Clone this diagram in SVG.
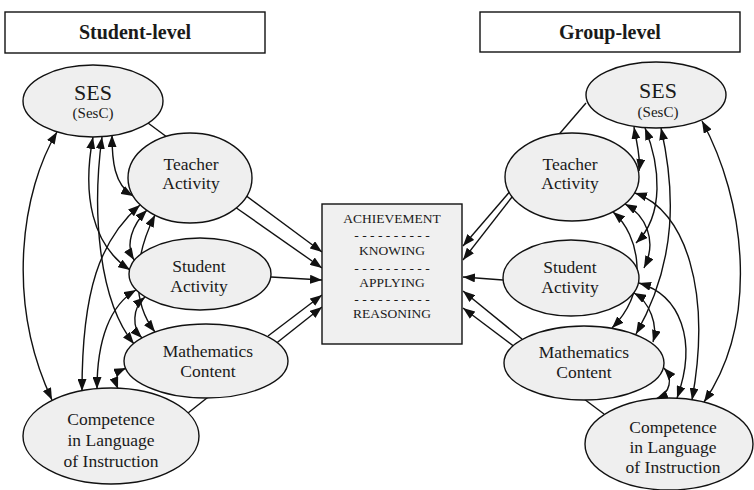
<svg xmlns="http://www.w3.org/2000/svg" width="754" height="490" viewBox="0 0 754 490">
<style>
  .t{font-family:"Liberation Serif","Times New Roman",serif;fill:#1a1a1a;text-anchor:middle}
  .title{font-size:20px;font-weight:bold}
  .n{font-size:17.5px}
  .ses{font-size:22px}
  .sub{font-size:15px}
  .ach{font-size:13.5px}
  .node ellipse{fill:#efefef;stroke:#111;stroke-width:1.4}
  .lbl rect{fill:#fff;stroke:#111;stroke-width:1.4}
  .conn path{fill:none;stroke:#111;stroke-width:1.4}
  .cov{marker-start:url(#ah);marker-end:url(#ah)}
  .dir{marker-end:url(#ah)}
</style>
<defs>
  <marker id="ah" viewBox="0 0 12 9" refX="12" refY="4.5" markerWidth="12" markerHeight="9" markerUnits="userSpaceOnUse" orient="auto-start-reverse">
    <path d="M0,0 L12,4.5 L0,9 z" fill="#111"/>
  </marker>
</defs>
<rect width="754" height="490" fill="#fff"/>

<g id="student-level" class="lbl">
  <rect x="5" y="12" width="260" height="41"/>
  <text class="t title" x="135" y="39">Student-level</text>
</g>
<g id="group-level" class="lbl">
  <rect x="480" y="12" width="260" height="40"/>
  <text class="t title" x="610" y="39">Group-level</text>
</g>

<g id="connectors" class="conn">
  <!-- left direct effects -->
  <path class="dir" d="M148,123 L322,252"/>
  <path class="dir" d="M235,207 L322,268"/>
  <path class="dir" d="M271,277 L322,280"/>
  <path class="dir" d="M268,336 L322,295"/>
  <path class="dir" d="M188,413 L322,307"/>
  <!-- right direct effects -->
  <path class="dir" d="M586,103 L463,246"/>
  <path class="dir" d="M512,197 L463,260"/>
  <path class="dir" d="M503,280 L463,277"/>
  <path class="dir" d="M522,339 L463,291"/>
  <path class="dir" d="M604,414 L463,308"/>
  <!-- left covariances -->
  <path class="cov" d="M57,132 C22,190 5,300 52,400"/>
  <path class="cov" d="M112,135 C112,160 114,185 133,196"/>
  <path class="cov" d="M93,137 C82,195 92,245 130,270"/>
  <path class="cov" d="M102,137 C92,210 98,300 134,344"/>
  <path class="cov" d="M140,205 C100,240 82,290 82,391"/>
  <path class="cov" d="M147,210 C132,225 125,245 134,260"/>
  <path class="cov" d="M155,215 C135,255 130,300 155,332"/>
  <path class="cov" d="M145,297 C132,308 132,328 142,338"/>
  <path class="cov" d="M136,290 C110,305 97,340 97,389"/>
  <path class="cov" d="M126,368 C117,372 114,378 118,389"/>
  <!-- right covariances -->
  <path class="cov" d="M634,127 C637,145 641,158 639,171"/>
  <path class="cov" d="M645,128 C660,165 665,215 636,243"/>
  <path class="cov" d="M661,128 C675,190 678,260 636,334"/>
  <path class="cov" d="M702,121 C745,200 760,320 704,402"/>
  <path class="cov" d="M635,193 C685,210 712,290 692,400"/>
  <path class="cov" d="M639,283 C680,295 698,340 677,398"/>
  <path class="cov" d="M634,293 C650,302 658,325 653,342"/>
  <path class="cov" d="M664,368 C673,378 671,393 656,399"/>
  <path class="cov" d="M625,204 C645,215 658,240 644,268"/>
  <path class="cov" d="M613,212 C640,235 650,290 612,328"/>
</g>

<!-- left nodes -->
<g id="ses-s" class="node">
  <ellipse cx="93" cy="101" rx="70" ry="36"/>
  <text class="t ses" x="93" y="100">SES</text>
  <text class="t sub" x="93" y="118">(SesC)</text>
</g>
<g id="teacher-s" class="node">
  <ellipse cx="190" cy="178" rx="62" ry="45"/>
  <text class="t n" x="191" y="170">Teacher</text>
  <text class="t n" x="191" y="189">Activity</text>
</g>
<g id="student-s" class="node">
  <ellipse cx="200" cy="274" rx="71" ry="36"/>
  <text class="t n" x="199" y="272">Student</text>
  <text class="t n" x="199" y="292">Activity</text>
</g>
<g id="math-s" class="node">
  <ellipse cx="206" cy="361" rx="82" ry="37"/>
  <text class="t n" x="208" y="357">Mathematics</text>
  <text class="t n" x="208" y="377">Content</text>
</g>
<g id="comp-s" class="node">
  <ellipse cx="111" cy="436" rx="88" ry="48"/>
  <text class="t n" x="111" y="425">Competence</text>
  <text class="t n" x="111" y="446">in Language</text>
  <text class="t n" x="111" y="467">of Instruction</text>
</g>

<!-- achievement -->
<g id="achievement">
  <rect x="322" y="204" width="140" height="140" fill="#f0f0f0" stroke="#111" stroke-width="1.4"/>
  <text class="t ach" x="392" y="223">ACHIEVEMENT</text>
  <text class="t ach" x="392" y="240">- - - - - - - - - -</text>
  <text class="t ach" x="392" y="255">KNOWING</text>
  <text class="t ach" x="392" y="273">- - - - - - - - - -</text>
  <text class="t ach" x="392" y="287">APPLYING</text>
  <text class="t ach" x="392" y="304">- - - - - - - - - -</text>
  <text class="t ach" x="392" y="318">REASONING</text>
</g>

<!-- right nodes -->
<g id="ses-g" class="node">
  <ellipse cx="656" cy="95" rx="70" ry="33"/>
  <text class="t ses" x="658" y="98">SES</text>
  <text class="t sub" x="658" y="117">(SesC)</text>
</g>
<g id="teacher-g" class="node">
  <ellipse cx="572" cy="177" rx="67" ry="44"/>
  <text class="t n" x="570" y="170">Teacher</text>
  <text class="t n" x="570" y="189">Activity</text>
</g>
<g id="student-g" class="node">
  <ellipse cx="571" cy="278" rx="68" ry="38"/>
  <text class="t n" x="570" y="273">Student</text>
  <text class="t n" x="570" y="293">Activity</text>
</g>
<g id="math-g" class="node">
  <ellipse cx="584" cy="363" rx="80" ry="37"/>
  <text class="t n" x="584" y="358">Mathematics</text>
  <text class="t n" x="584" y="378">Content</text>
</g>
<g id="comp-g" class="node">
  <ellipse cx="669" cy="444" rx="84" ry="46"/>
  <text class="t n" x="673" y="433">Competence</text>
  <text class="t n" x="673" y="453">in Language</text>
  <text class="t n" x="673" y="473">of Instruction</text>
</g>
</svg>
